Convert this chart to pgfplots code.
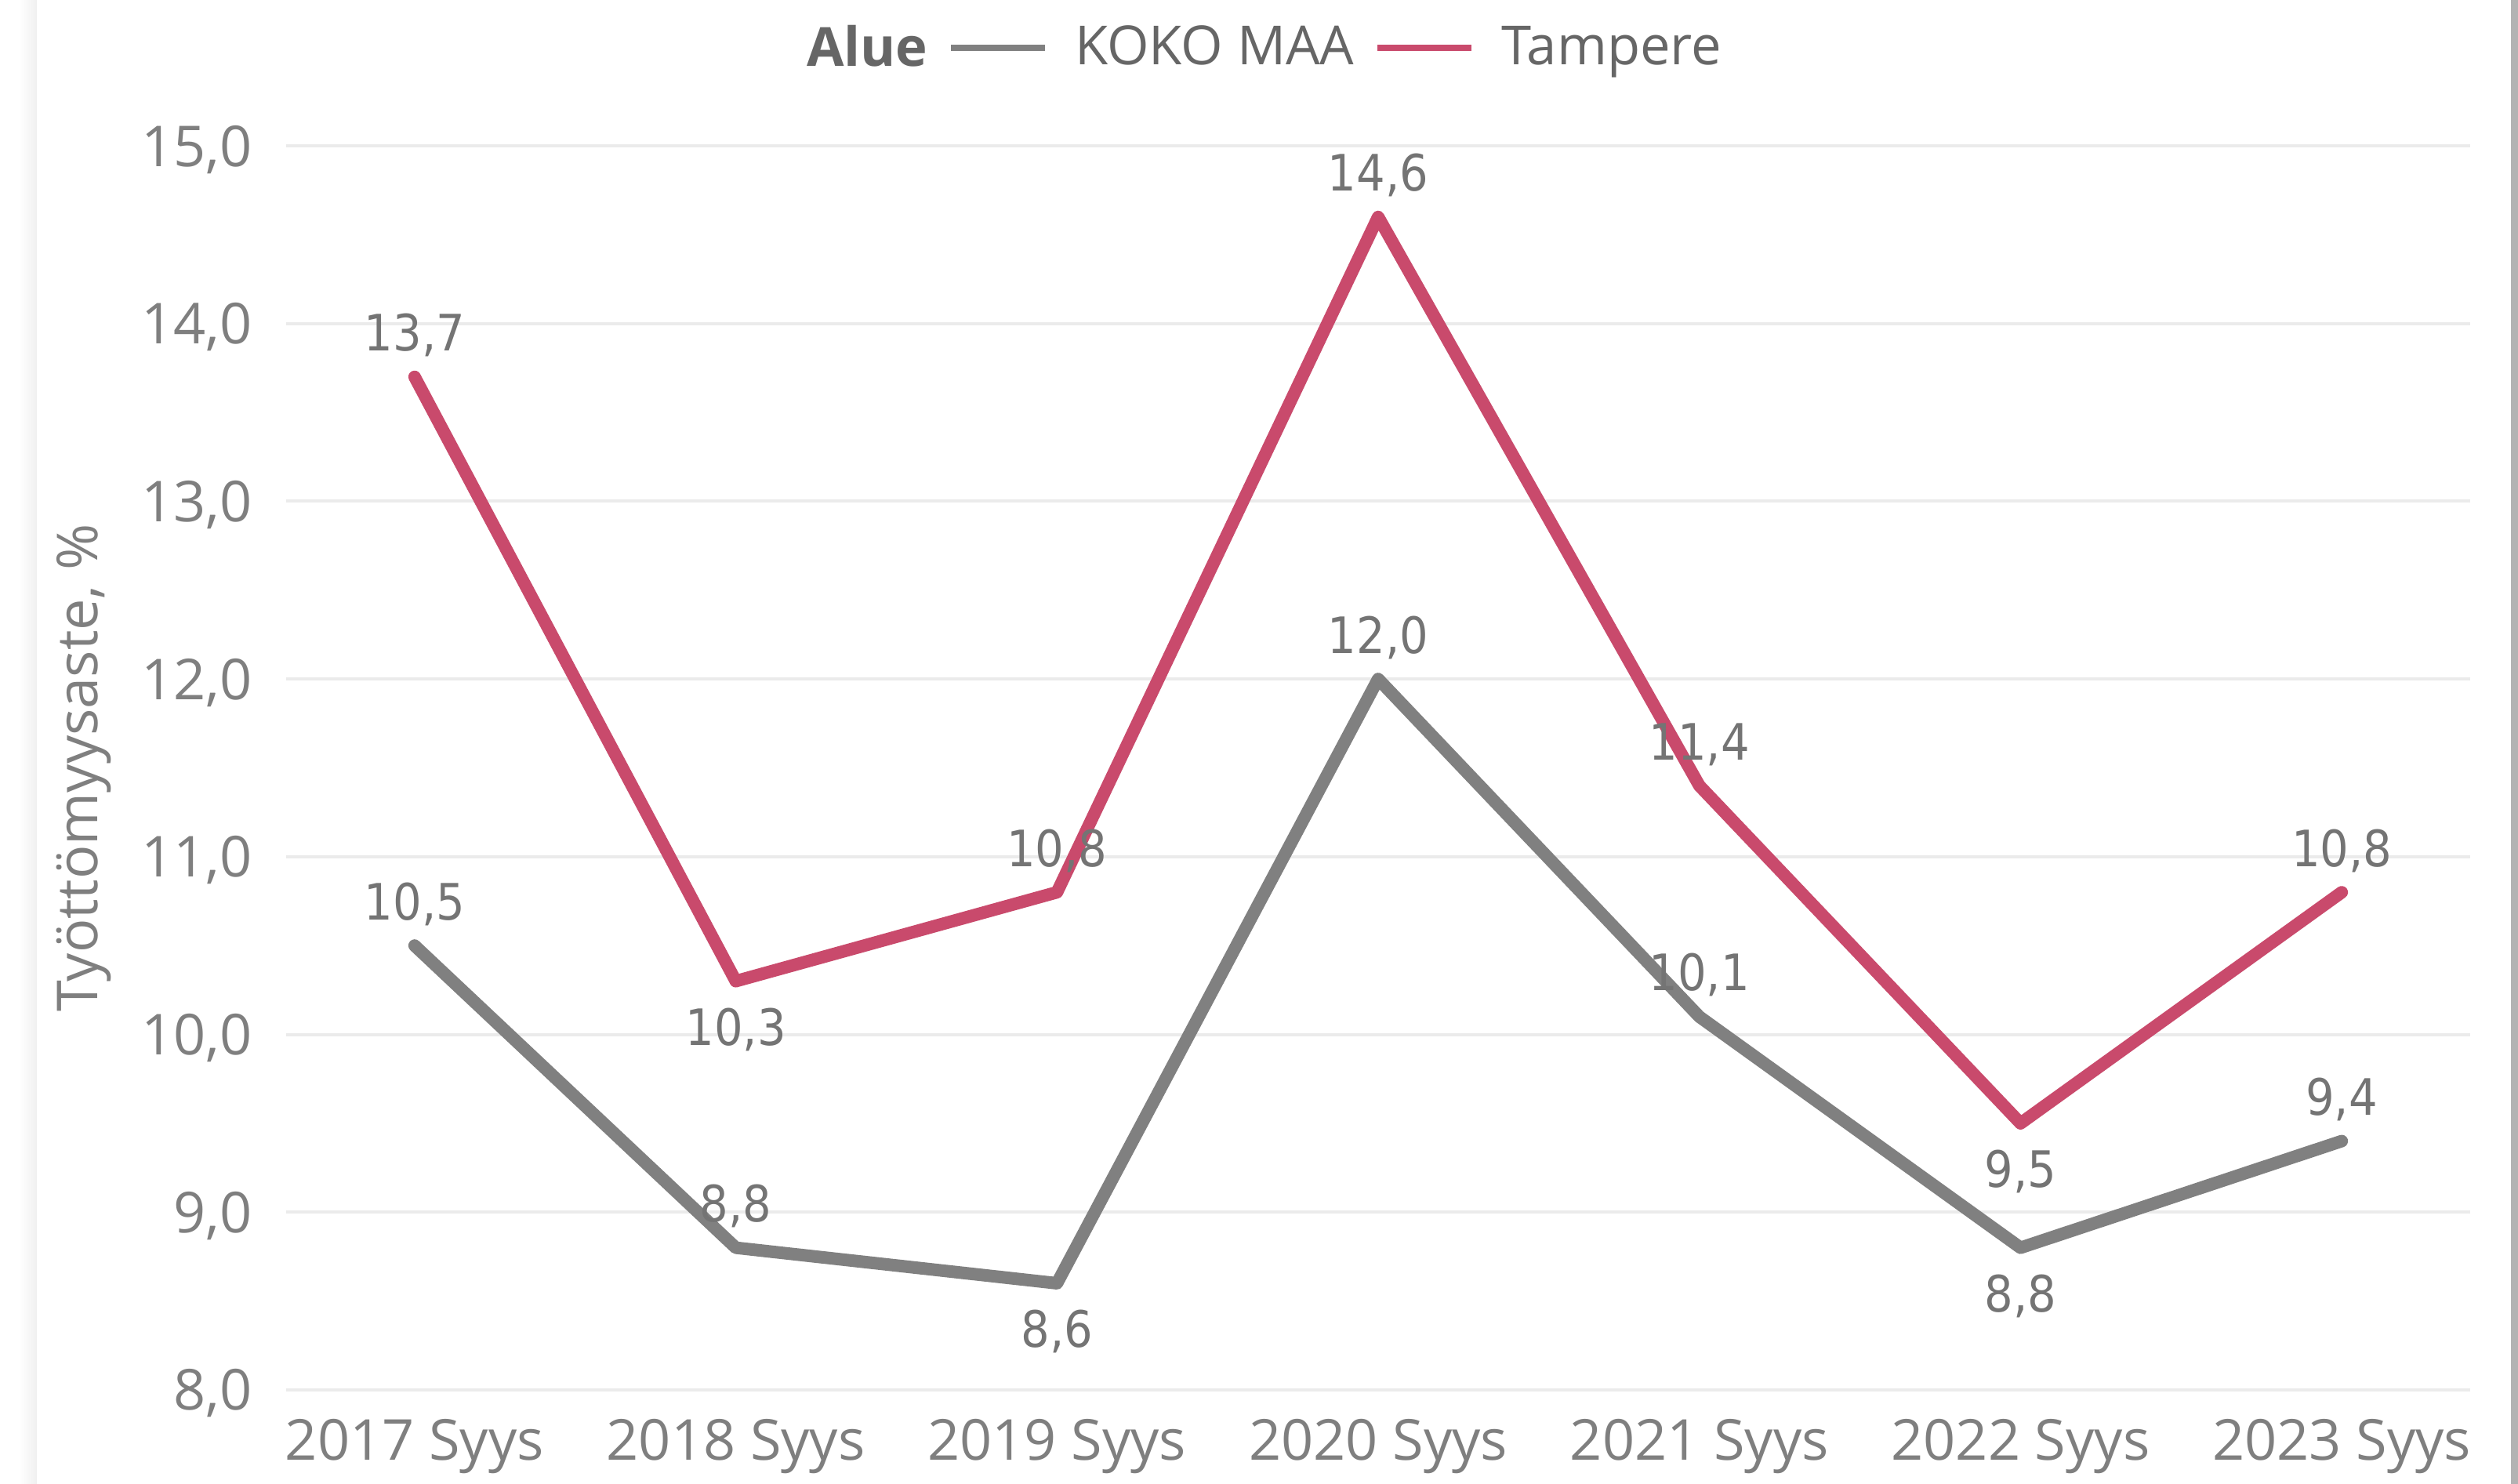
\documentclass[border=0pt]{standalone}
\usepackage{fontspec}
\setmainfont{Open Sans}
\newfontfamily\labelfont{DejaVu Sans Condensed}
\usepackage{pgfplots}
\pgfplotsset{compat=1.18}
\definecolor{gline}{HTML}{808080}
\definecolor{pline}{HTML}{C94A6C}
\definecolor{ticktext}{HTML}{7F7F7F}
\definecolor{labtext}{HTML}{747474}
\definecolor{gridc}{HTML}{EBEBEB}
\definecolor{legtext}{HTML}{666666}
\definecolor{edge}{HTML}{B3B3B3}
\pgfkeys{/pgf/number format/.cd, use comma, fixed, fixed zerofill, precision=1, assume math mode=true}
\begin{document}
\begin{tikzpicture}
\useasboundingbox (0,0) rectangle (803pt,473.25pt);
\fill[white] (0,0) rectangle (803pt,473.25pt);
\shade[left color=white, right color=black!6] (6pt,0) rectangle (11.75pt,473.25pt);
\fill[edge] (800.75pt,0) rectangle (803pt,473.25pt);
\begin{axis}[
  at={(91.25pt,30pt)}, anchor=south west,
  scale only axis, width=696.5pt, height=396.75pt,
  xmin=-0.4, xmax=6.4, ymin=8, ymax=15,
  xtick={0,1,2,3,4,5,6},
  xticklabels={2017 Syys,2018 Syys,2019 Syys,2020 Syys,2021 Syys,2022 Syys,2023 Syys},
  ytick={8,9,10,11,12,13,14,15},
  ymajorgrids, grid style={gridc, line width=1pt},
  axis line style={draw=none}, major tick length=0pt,
  ticklabel style={font=\fontsize{18}{20}\selectfont, text=ticktext},
  yticklabel style={anchor=base east, inner sep=0pt, xshift=-10.75pt, yshift=-6.5pt},
  xticklabel style={anchor=base, inner sep=0pt, yshift=-22.5pt},
  ylabel={Työttömyysaste, \%},
  ylabel style={at={(axis description cs:-0.0926,0.5)}, anchor=center, font=\fontsize{18}{20}\selectfont, text=ticktext},
  legend style={at={(axis description cs:0.4417,1.0788)}, anchor=center, draw=none, fill=none,
    font=\fontsize{17.2}{20}\selectfont, text=legtext,
    nodes={inner sep=0pt},
    /tikz/every even column/.append style={column sep=6.5pt},
    /tikz/every odd column/.append style={column sep=8.5pt}},
  legend columns=-1,
  legend image code/.code={\draw[#1, line width=2pt, line cap=butt] (0pt,0pt) -- (30pt,0pt);},
]
\addlegendimage{empty legend}
\addlegendentry{\textbf{Alue}}
\addplot[gline, line width=4pt, line cap=round, line join=round] coordinates {(0,10.5)(1,8.8)(2,8.6)(3,12.0)(4,10.1)(5,8.8)(6,9.4)};
\addlegendentry{KOKO MAA}
\addplot[pline, line width=4pt, line cap=round, line join=round] coordinates {(0,13.7)(1,10.3)(2,10.8)(3,14.6)(4,11.4)(5,9.5)(6,10.8)};
\addlegendentry{Tampere}
% labels above
\addplot[draw=none, mark=none, forget plot, point meta=y, nodes near coords,
  every node near coord/.append style={anchor=base, yshift=8.25pt, inner sep=0pt, font=\labelfont\fontsize{16}{18}\selectfont, text=labtext}]
  coordinates {(0,10.5)(1,8.8)(3,12.0)(4,10.1)(6,9.4)(0,13.7)(2,10.8)(3,14.6)(4,11.4)(6,10.8)};
% labels below
\addplot[draw=none, mark=none, forget plot, point meta=y, nodes near coords,
  every node near coord/.append style={anchor=base, yshift=-20.5pt, inner sep=0pt, font=\labelfont\fontsize{16}{18}\selectfont, text=labtext}]
  coordinates {(2,8.6)(5,8.8)(1,10.3)(5,9.5)};
\end{axis}
\end{tikzpicture}
\end{document}
